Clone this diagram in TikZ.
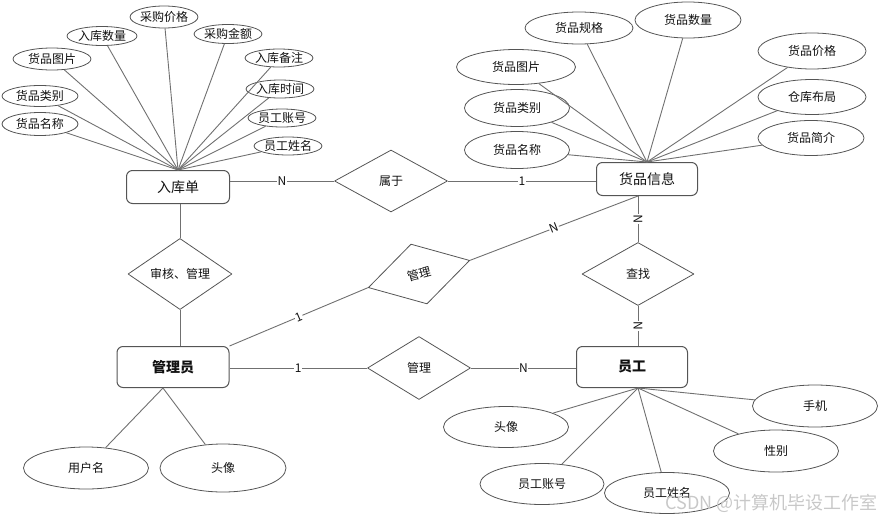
\documentclass[tikz,border=0pt]{standalone}
\usepackage{fontspec}
\setmainfont{Noto Sans CJK SC}
\usetikzlibrary{shapes.geometric}
\definecolor{ink}{HTML}{111111}
\definecolor{rim}{HTML}{555555}
\definecolor{wire}{HTML}{707070}
\definecolor{stamp}{HTML}{C8C8C8}
\newcommand{\attrfont}{\fontsize{12}{14}\selectfont}
\newcommand{\entfont}{\fontsize{14}{16}\selectfont}
\tikzset{
  every picture/.style = {line join=round, text=ink},
  entity/.style        = {draw=rim, line width=1pt, rounded corners=6pt, inner sep=0pt, font=\entfont},
  attr/.style          = {draw=rim, ellipse, line width=0.8pt, inner sep=0pt, font=\attrfont},
  rel/.style           = {draw=rim, diamond, line width=0.8pt, inner sep=0pt, font=\attrfont},
  wire/.style          = {draw=wire, line width=0.9pt},
  card/.style          = {fill=white, inner sep=0.6pt, font=\fontsize{12}{13}\selectfont},
}

\begin{document}
\begin{tikzpicture}[x=1pt, y=-1pt]
  \useasboundingbox (0,0) rectangle (879,517);

  % ---------- entities -------------------------------------------------------
  \node[entity, minimum width=103pt, minimum height=33pt] (rkd)  at (178,187) {入库单};
  \node[entity, minimum width=101pt, minimum height=33pt] (hpxx) at (647,179) {货品信息};
  \node[entity, minimum width=112pt, minimum height=41pt, font=\entfont\bfseries] (gly) at (173,367) {管理员};
  \node[entity, minimum width=111pt, minimum height=41pt, font=\entfont\bfseries] (yg)  at (632,367) {员工};

  % ---------- relationships --------------------------------------------------
  \node[rel, minimum width=113pt, minimum height=62pt] (sy)   at (391,181) {属于};
  \node[rel, minimum width=104pt, minimum height=63pt] (shgl) at (180,274) {审核、管理};
  \node[rel, minimum width=105pt, minimum height=62pt, rotate=15] (gl1) at (419,274) {管理};
  \node[rel, minimum width=103pt, minimum height=63pt] (gl2)  at (419,368) {管理};
  \node[rel, minimum width=112pt, minimum height=63pt] (cz)   at (638,274) {查找};

  % ---------- links with cardinalities ---------------------------------------
  \draw[wire] (sy.west) -- node[card] {N} (sy.west -| rkd.east);
  \draw[wire] (sy.east) -- node[card] {1} (sy.east -| hpxx.west);
  \draw[wire] (shgl.north) -- (shgl.north |- rkd.south);
  \draw[wire] (shgl.south) -- (shgl.south |- gly.north);
  \draw[wire] (gly.north east) -- node[card, sloped] {1} (gl1.west);
  \draw[wire] (gl1.east) -- node[card, sloped] {N} (cz.north |- hpxx.south);
  \draw[wire] (cz.north) -- node[card, sloped] {N} (cz.north |- hpxx.south);
  \draw[wire] (cz.south) -- node[card, sloped] {N} (cz.south |- yg.north);
  \draw[wire] (gl2.west) -- node[card] {1} (gl2.west -| gly.east);
  \draw[wire] (gl2.east) -- node[card] {N} (gl2.east -| yg.west);

  % ---------- attributes of 入库单 ---------------------------------------------
  \coordinate (rkdhub) at (rkd.north);
  \node[attr, minimum width=76pt, minimum height=23pt] (ra1)  at (40,124)  {货品名称};
  \node[attr, minimum width=76pt, minimum height=21pt] (ra2)  at (40,96)   {货品类别};
  \node[attr, minimum width=78pt, minimum height=22pt] (ra3)  at (52,59)   {货品图片};
  \node[attr, minimum width=70pt, minimum height=19pt] (ra4)  at (102,36)  {入库数量};
  \node[attr, minimum width=64pt, minimum height=22pt] (ra5)  at (164,17)  {采购价格};
  \node[attr, minimum width=62pt, minimum height=19pt] (ra6)  at (228,34)  {采购金额};
  \node[attr, minimum width=65pt, minimum height=18pt] (ra7)  at (279,58)  {入库备注};
  \node[attr, minimum width=65pt, minimum height=18pt] (ra8)  at (280,89)  {入库时间};
  \node[attr, minimum width=65pt, minimum height=18pt] (ra9)  at (282,118) {员工账号};
  \node[attr, minimum width=65pt, minimum height=18pt] (ra10) at (288,146) {员工姓名};
  \draw[wire] (ra1) -- (rkdhub);  \draw[wire] (ra2) -- (rkdhub);
  \draw[wire] (ra3) -- (rkdhub);  \draw[wire] (ra4) -- (rkdhub);
  \draw[wire] (ra5) -- (rkdhub);  \draw[wire] (ra6) -- (rkdhub);
  \draw[wire] (ra7) -- (rkdhub);  \draw[wire] (ra8) -- (rkdhub);
  \draw[wire] (ra9) -- (rkdhub);  \draw[wire] (ra10) -- (rkdhub);

  % ---------- attributes of 货品信息 -------------------------------------------
  \coordinate (hphub) at (hpxx.north);
  \node[attr, minimum width=105pt, minimum height=37pt] (ha1) at (517,150) {货品名称};
  \node[attr, minimum width=105pt, minimum height=37pt] (ha2) at (517,108) {货品类别};
  \node[attr, minimum width=119pt, minimum height=35pt] (ha3) at (516,67)  {货品图片};
  \node[attr, minimum width=108pt, minimum height=32pt] (ha4) at (579,28)  {货品规格};
  \node[attr, minimum width=106pt, minimum height=36pt] (ha5) at (688,20)  {货品数量};
  \node[attr, minimum width=108pt, minimum height=36pt] (ha6) at (812,51)  {货品价格};
  \node[attr, minimum width=108pt, minimum height=35pt] (ha7) at (812,97)  {仓库布局};
  \node[attr, minimum width=106pt, minimum height=35pt] (ha8) at (811,138) {货品简介};
  \draw[wire] (ha1) -- (hphub);  \draw[wire] (ha2) -- (hphub);
  \draw[wire] (ha3) -- (hphub);  \draw[wire] (ha4) -- (hphub);
  \draw[wire] (ha5) -- (hphub);  \draw[wire] (ha6) -- (hphub);
  \draw[wire] (ha7) -- (hphub);  \draw[wire] (ha8) -- (hphub);

  % ---------- attributes of 管理员 ---------------------------------------------
  \coordinate (glyhub) at ([xshift=-10pt]gly.south);
  \node[attr, minimum width=125pt, minimum height=42pt] (ga1) at (86,468)  {用户名};
  \node[attr, minimum width=126pt, minimum height=48pt] (ga2) at (223,468) {头像};
  \draw[wire] (ga1) -- (glyhub);  \draw[wire] (ga2) -- (glyhub);

  % ---------- attributes of 员工 -----------------------------------------------
  \coordinate (yghub) at (yg.south -| cz.south);
  \node[attr, minimum width=125pt, minimum height=41pt] (ya1) at (506,427) {头像};
  \node[attr, minimum width=124pt, minimum height=41pt] (ya2) at (542,484) {员工账号};
  \node[attr, minimum width=125pt, minimum height=41pt] (ya3) at (667,493) {员工姓名};
  \node[attr, minimum width=125pt, minimum height=42pt] (ya4) at (776,451) {性别};
  \node[attr, minimum width=125pt, minimum height=42pt] (ya5) at (815,406) {手机};
  \draw[wire] (ya1) -- (yghub);  \draw[wire] (ya2) -- (yghub);
  \draw[wire] (ya3) -- (yghub);  \draw[wire] (ya4) -- (yghub);
  \draw[wire] (ya5) -- (yghub);

  % watermark
  \node[anchor=east, text=stamp, inner sep=0pt, font=\fontsize{18}{20}\selectfont] (wm) at (878,503) {CSDN @计算机毕设工作室};
\end{tikzpicture}
\end{document}
